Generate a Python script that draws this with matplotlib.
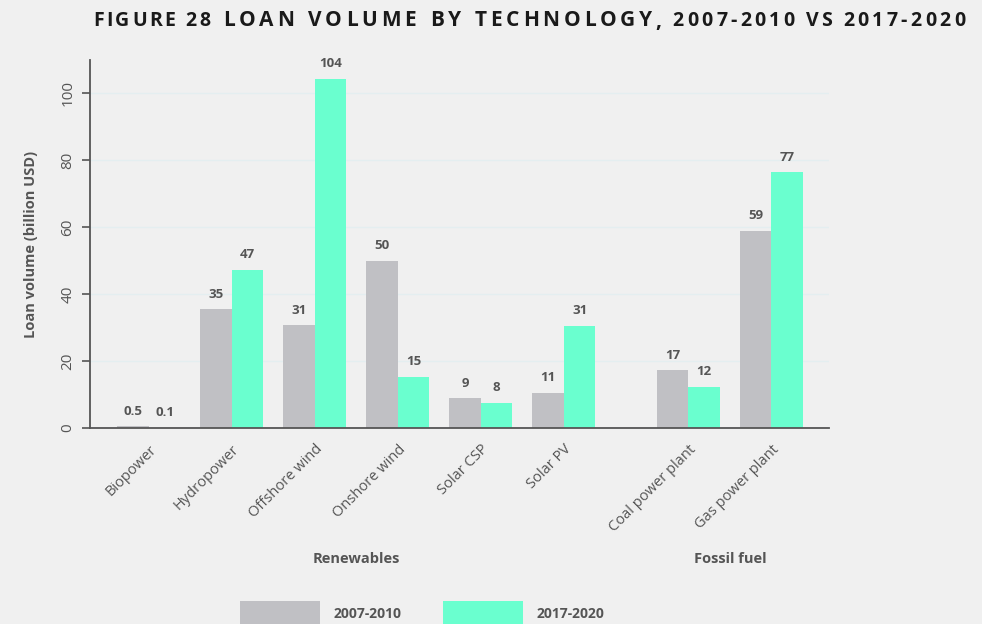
import matplotlib.pyplot as plt
import numpy as np

# data
categories = ["Biopower", "Hydropower", "Offshore wind", "Onshore wind",
              "Solar CSP", "Solar PV", "Coal power plant", "Gas power plant"]
positions = [0, 1, 2, 3, 4, 5, 6.5, 7.5]
vol_2007_2010 = [0.5, 35.5, 30.8, 50.0, 9.0, 10.6, 17.2, 59.0]
vol_2017_2020 = [0.1, 47.3, 104.4, 15.4, 7.6, 30.6, 12.4, 76.5]
labels_2007_2010 = ["0.5", "35", "31", "50", "9", "11", "17", "59"]
labels_2017_2020 = ["0.1", "47", "104", "15", "8", "31", "12", "77"]
groups = ["Renewables", "Fossil fuel"]
group_pos = [2.5, 7.0]
series_names = ["2007-2010", "2017-2020"]
title_parts = ["FIGURE 28", " LOAN VOLUME BY TECHNOLOGY,", " 2007-2010 VS 2017-2020"]

bg = "#f0f0f0"
txt = "#555555"
gray = "#c0c0c4"
green = "#6affcf"

plt.rcParams["font.family"] = ["Open Sans", "DejaVu Sans"]

W, H = 982, 624
fig = plt.figure(figsize=(W / 100, H / 100), dpi=100, facecolor=bg)
ax = fig.add_axes([0.0917, 0.314, 0.753, 0.59], facecolor=bg)

x = np.array(positions)
w = 0.38
b1 = ax.bar(x - w / 2, vol_2007_2010, w, color=gray, label=series_names[0])
b2 = ax.bar(x + w / 2, vol_2017_2020, w, color=green, label=series_names[1])

for bars, labs in [(b1, labels_2007_2010), (b2, labels_2017_2020)]:
    for bar, lab in zip(bars, labs):
        ax.annotate(lab, (bar.get_x() + bar.get_width() / 2, bar.get_height()),
                    xytext=(0, 6), textcoords="offset points",
                    ha="center", va="bottom", fontsize=9.5,
                    fontweight="bold", color=txt)

ax.set_ylim(0, 110)
ax.set_xlim(-0.71, 8.2)
ax.set_yticks([0, 20, 40, 60, 80, 100])
ax.set_yticklabels(["0", "20", "40", "60", "80", "100"], rotation=90,
                   va="center", fontsize=11, color=txt)
ax.set_xticks(positions)
ax.set_xticklabels(categories, rotation=45, ha="right", rotation_mode="anchor",
                   fontsize=10.5, color=txt)
ax.tick_params(axis="x", length=0, pad=10)
ax.tick_params(axis="y", length=6, width=1.2, color=txt, pad=4.5)
ax.grid(axis="y", color="#e4eef0", linewidth=1)
ax.set_axisbelow(True)
for s in ["top", "right"]:
    ax.spines[s].set_visible(False)
for s in ["left", "bottom"]:
    ax.spines[s].set_color(txt)
    ax.spines[s].set_linewidth(1.3)

ax.set_ylabel("Loan volume (billion USD)", fontsize=10.5, fontweight="bold",
              color=txt, labelpad=16)

for g, gp in zip(groups, group_pos):
    ax.annotate(g, (gp, 0), xycoords=("data", "axes fraction"),
                xytext=(0, -94), textcoords="offset points",
                ha="center", va="center", fontsize=10.5,
                fontweight="bold", color=txt)

# title with letter spacing, drawn char by char
renderer = fig.canvas.get_renderer()
tracking = [2.5, 3.75, 3.3]
space_w = [5.0, 6.5, 4.0]
sizes = [14, 15, 14]
xpos = 93
for part, trk, sp, sz in zip(title_parts, tracking, space_w, sizes):
    for ch in part:
        if ch == " ":
            xpos += sp + trk
            continue
        t = fig.text(xpos / W, 1 - 21 / H, ch, ha="left", va="center",
                     fontsize=sz, fontweight="bold", color="#1a1a1a")
        xpos += t.get_window_extent(renderer).width + trk

leg = fig.legend(loc="center", bbox_to_anchor=(0.43, 0.016), ncol=2,
                 frameon=False, handlelength=5.75, handleheight=2.4,
                 columnspacing=3.0, handletextpad=0.95, borderaxespad=0)
for t in leg.get_texts():
    t.set_color(txt)
    t.set_fontweight("bold")
    t.set_fontsize(10)

fig.savefig("out.png", dpi=100, facecolor=bg)
